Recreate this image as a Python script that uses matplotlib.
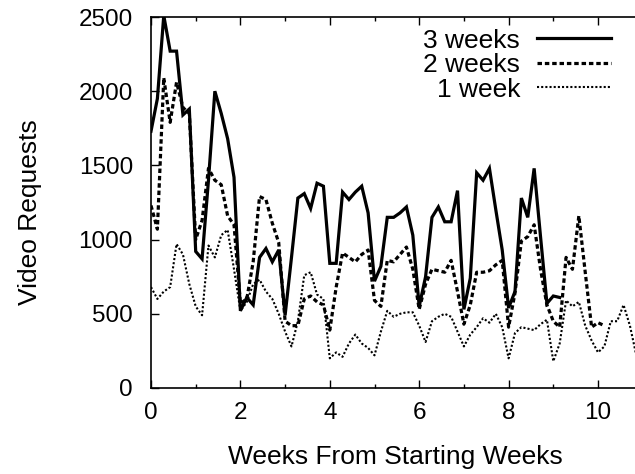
import numpy as np
import matplotlib.pyplot as plt

plt.rcParams['font.family'] = ['Liberation Sans', 'DejaVu Sans']

# daily values, x in weeks = day / 7
three_weeks = [1730, 1950, 2510, 2270, 2270, 1840, 1880, 920, 870, 1400,
               2000, 1850, 1680, 1420, 520, 610, 560, 880, 940, 850,
               930, 490, 880, 1280, 1310, 1210, 1380, 1360, 840, 840,
               1320, 1270, 1320, 1360, 1180, 720, 820, 1150, 1150, 1180,
               1220, 1030, 550, 750, 1150, 1220, 1120, 1120, 1330, 530,
               740, 1450, 1400, 1480, 1200, 930, 540, 650, 1280, 1150,
               1480, 1020, 570, 620, 610]
two_weeks = [1230, 1070, 2090, 1790, 2060, 1890, 1850, 1000, 1130, 1480,
             1400, 1370, 1160, 1100, 570, 600, 850, 1290, 1270, 1110,
             980, 450, 420, 420, 600, 620, 580, 560, 390, 680,
             910, 880, 850, 900, 930, 590, 550, 860, 850, 900,
             950, 800, 530, 700, 800, 790, 780, 860, 650, 430,
             560, 780, 780, 790, 830, 860, 410, 640, 990, 1020,
             1100, 800, 560, 450, 410, 880, 800, 1160, 780, 410,
             440, 420]
one_week = [680, 600, 650, 680, 970, 900, 700, 550, 490, 960,
            880, 1030, 1065, 800, 520, 580, 700, 730, 650, 600,
            500, 380, 280, 450, 760, 780, 630, 600, 200, 240,
            210, 300, 360, 300, 270, 220, 380, 520, 480, 500,
            510, 510, 420, 310, 450, 480, 500, 480, 380, 280,
            360, 410, 470, 440, 500, 410, 200, 370, 410, 400,
            390, 430, 460, 180, 300, 590, 550, 580, 420, 320,
            240, 280, 450, 450, 560, 420, 220]

tick_fs = 17.5
label_fs = 19

fig = plt.figure(figsize=(6.35, 4.74), dpi=100)
ax = fig.add_axes([151/635, 86/474, 489/635, 371/474])

x3 = np.arange(len(three_weeks)) / 7.0
x2 = np.arange(len(two_weeks)) / 7.0
x1 = np.arange(len(one_week)) / 7.0

ax.plot(x3, three_weeks, color='black', lw=2.3, label='3 weeks', solid_joinstyle='miter')
ax.plot(x2, two_weeks, color='black', lw=2.3, dashes=(1.4, 0.9), label='2 weeks')
ax.plot(x1, one_week, color='black', lw=1.5, dashes=(1.0, 1.0), label='1 week')

ax.set_xlim(0, 489/44.7)
ax.set_ylim(0, 2500)
ax.set_xticks([0, 2, 4, 6, 8, 10])
ax.set_xticks([1, 3, 5, 7, 9], minor=True)
ax.set_yticks([0, 500, 1000, 1500, 2000, 2500])
ax.tick_params(direction='in', top=True, right=False, labelsize=tick_fs,
               length=6, width=1)
ax.tick_params(axis='x', pad=10)
ax.tick_params(axis='y', pad=13)
ax.tick_params(which='minor', direction='in', top=True, length=3, width=1)
ax.spines['right'].set_visible(False)
for s in ['left', 'top', 'bottom']:
    ax.spines[s].set_linewidth(1.2)

ax.set_xlabel('Weeks From Starting Weeks', fontsize=label_fs, labelpad=15)
ax.set_ylabel('Video Requests', fontsize=label_fs)
ax.yaxis.set_label_coords(-0.222, 0.475)

ax.legend(loc='upper right', bbox_to_anchor=(0.962, 0.997), frameon=False,
          markerfirst=False, fontsize=label_fs, handlelength=2.8,
          labelspacing=0.02, handletextpad=0.64, borderaxespad=0)

fig.savefig('out.png', dpi=100)
